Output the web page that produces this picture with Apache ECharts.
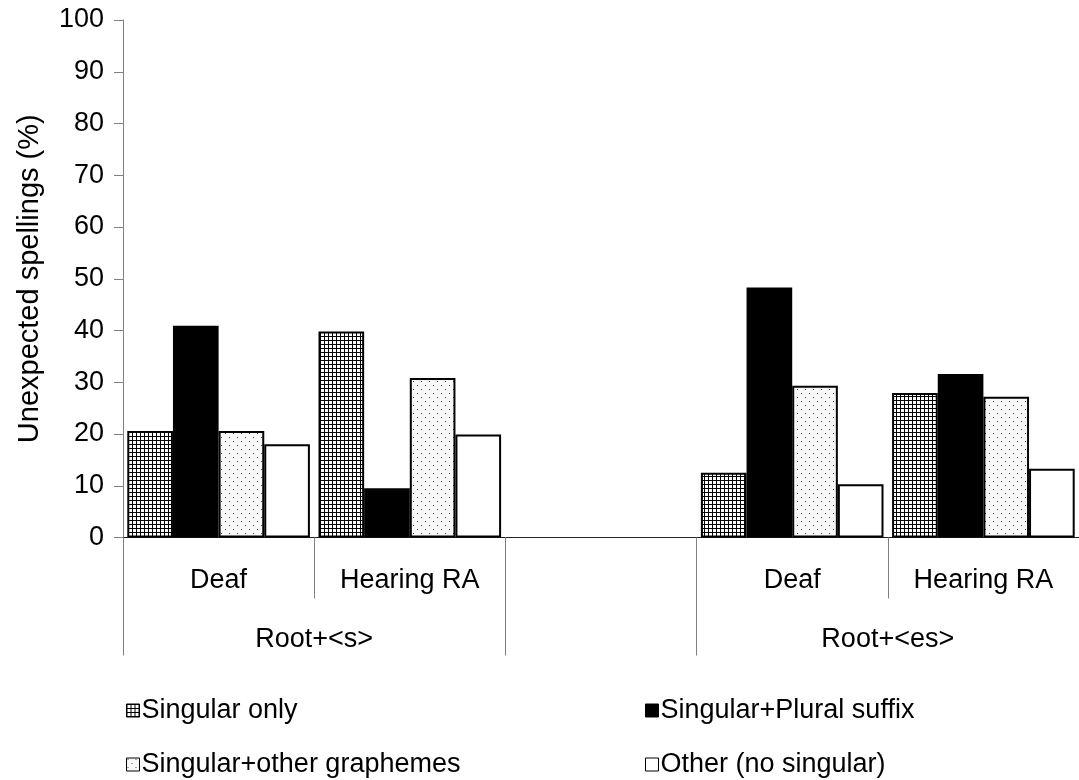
<!DOCTYPE html>
<html>
<head>
<meta charset="utf-8">
<script src="https://cdn.jsdelivr.net/npm/echarts@6/dist/echarts.min.js"></script>
<style>html,body{margin:0;padding:0;background:#fff;}#chart{width:1079px;height:780px;}</style>
</head>
<body>
<div id="chart"></div>
<script>
// ---- data ----
const categories = ['Deaf', 'Hearing RA', '', 'Deaf', 'Hearing RA'];
const groupNames = ['Root+<s>', '', 'Root+<es>'];
const groupSpans = [2, 1, 2];
const seriesNames = ['Singular only', 'Singular+Plural suffix', 'Singular+other graphemes', 'Other (no singular)'];
const singularOnly = [20.6, 39.8, null, 12.5, 27.9];
const pluralSuffix = [40.9, 9.5, null, 48.3, 31.6];
const otherGraphemes = [20.6, 30.8, null, 29.3, 27.2];
const otherNoSingular = [18.0, 19.9, null, 10.3, 13.3];
const yTicks = [0, 10, 20, 30, 40, 50, 60, 70, 80, 90, 100];

// ---- patterns ----
function gridPattern() {
  const c = document.createElement('canvas'); c.width = 4; c.height = 4;
  const g = c.getContext('2d');
  g.fillStyle = '#fff'; g.fillRect(0, 0, 4, 4);
  g.fillStyle = '#000'; g.fillRect(0, 0, 4, 1); g.fillRect(0, 0, 1, 4);
  return { image: c, repeat: 'repeat' };
}
function dotPattern() {
  const c = document.createElement('canvas'); c.width = 8; c.height = 8;
  const g = c.getContext('2d');
  g.fillStyle = '#f7f7f7'; g.fillRect(0, 0, 8, 8);
  g.fillStyle = '#444'; g.fillRect(1, 1, 1, 1); g.fillRect(5, 5, 1, 1);
  return { image: c, repeat: 'repeat' };
}

// group boundaries/midpoints derived from spans
const bounds = [0];
groupSpans.forEach(s => bounds.push(bounds[bounds.length - 1] + s));
const mids = [];
const midNames = {};
groupSpans.forEach((s, i) => {
  if (groupNames[i]) { const m = bounds[i] + s / 2; mids.push(m); midNames[m] = groupNames[i]; }
});

const font = 'Liberation Sans, Arial, sans-serif';
const FS = 27;
const chart = echarts.init(document.getElementById('chart'), null, { renderer: 'canvas' });
const fills = [gridPattern(), '#000', dotPattern(), '#fff'];
const datas = [singularOnly, pluralSuffix, otherGraphemes, otherNoSingular];

function legendFor(names, left) {
  return {
    data: names, left: left, top: 697, height: 200, padding: 0,
    orient: 'vertical', itemGap: 27,
    itemWidth: 13, itemHeight: 13, icon: 'rect', itemStyle: { borderWidth: 1, borderColor: '#000' },
    textStyle: { color: '#000', fontSize: FS, fontFamily: font, padding: [0, 0, 0, -3] }, selectedMode: false
  };
}

chart.setOption({
  animation: false,
  backgroundColor: '#fff',
  grid: { left: 123, right: -3, top: 20, bottom: 242.5, containLabel: false },
  xAxis: [{
    type: 'category',
    data: categories,
    axisLine: { show: true, lineStyle: { color: '#222', width: 1 } },
    axisTick: { show: true, interval: 0, length: 61, lineStyle: { color: '#808080' } },
    axisLabel: { interval: 0, margin: 30, color: '#000', fontSize: FS, fontFamily: font },
    splitLine: { show: false }
  }, {
    type: 'value',
    min: 0, max: categories.length,
    position: 'bottom',
    axisLine: { show: false },
    axisTick: { show: true, customValues: bounds, length: 118, lineStyle: { color: '#808080' } },
    axisLabel: { show: true, customValues: mids, margin: 89, color: '#000', fontSize: FS, fontFamily: font,
      formatter: v => midNames[v] || '' },
    splitLine: { show: false }
  }],
  yAxis: {
    type: 'value', min: 0, max: 100, interval: 10,
    name: 'Unexpected spellings (%)', nameLocation: 'middle', nameGap: 79,
    nameTextStyle: { color: '#000', fontSize: 29, fontFamily: font },
    axisLine: { show: true, lineStyle: { color: '#808080' } },
    axisTick: { show: true, length: 9, lineStyle: { color: '#808080' } },
    axisLabel: { margin: 19, color: '#000', fontSize: FS, fontFamily: font },
    splitLine: { show: false }
  },
  legend: [
    legendFor([seriesNames[0], seriesNames[2]], 126),
    legendFor([seriesNames[1], seriesNames[3]], 645)
  ],
  series: datas.map((d, i) => ({
    name: seriesNames[i], type: 'bar', data: d,
    barGap: '0%', barCategoryGap: '4.5%',
    itemStyle: { color: fills[i], borderColor: '#000', borderWidth: 2 }
  }))
});
</script>
</body>
</html>
